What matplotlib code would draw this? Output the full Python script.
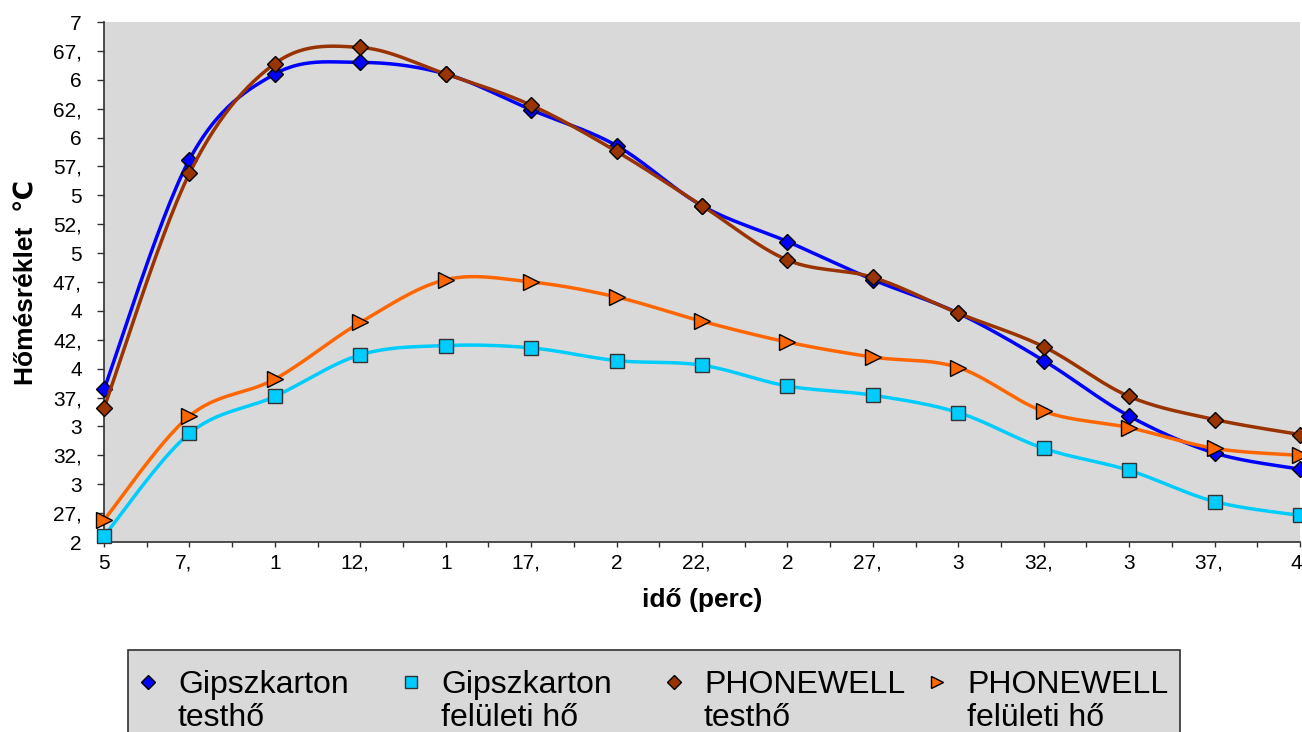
import numpy as np
import matplotlib
matplotlib.use("Agg")
import matplotlib.pyplot as plt
from matplotlib.lines import Line2D
from matplotlib.patches import Rectangle
from matplotlib.ticker import MultipleLocator
from matplotlib.transforms import ScaledTranslation

plt.rcParams['font.family'] = ['Liberation Sans', 'DejaVu Sans']

# --- data ---
times = [5, 7.5, 10, 12.5, 15, 17.5, 20, 22.5, 25, 27.5, 30, 32.5, 35, 37.5, 40]

gipsz_test = [38.2, 58.1, 65.5, 66.5, 65.5, 62.4, 59.3, 54.1, 51.0, 47.7, 44.8, 40.7, 35.9, 32.7, 31.3]
gipsz_felulet = [25.5, 34.4, 37.6, 41.2, 42.0, 41.8, 40.7, 40.3, 38.5, 37.7, 36.2, 33.1, 31.2, 28.5, 27.3]
phone_test = [36.6, 56.9, 66.4, 67.8, 65.5, 62.8, 58.8, 54.1, 49.4, 47.9, 44.8, 41.9, 37.6, 35.6, 34.3]
phone_felulet = [26.9, 35.9, 39.1, 44.0, 47.7, 47.5, 46.2, 44.1, 42.3, 41.0, 40.1, 36.3, 34.9, 33.1, 32.5]

series_names = ["Gipszkarton\ntesthő", "Gipszkarton\nfelületi hő",
                "PHONEWELL\ntesthő", "PHONEWELL\nfelületi hő"]

# tick labels are truncated in the original chart, kept as they appear
x_ticklabels = ['5', '7,', '1', '12,', '1', '17,', '2', '22,', '2', '27,',
                '3', '32,', '3', '37,', '4']
y_ticks = [25, 27.5, 30, 32.5, 35, 37.5, 40, 42.5, 45, 47.5, 50, 52.5,
           55, 57.5, 60, 62.5, 65, 67.5, 70]
y_ticklabels = ['2', '27,', '3', '32,', '3', '37,', '4', '42,', '4', '47,',
                '5', '52,', '5', '57,', '6', '62,', '6', '67,', '7']


def excel_smooth(xs, ys, steps=30):
    # bezier smoothing like the "smoothed line" option of spreadsheet charts
    pts = np.column_stack([xs, ys]).astype(float)
    n = len(pts)
    out = [pts[0]]
    t = np.linspace(0, 1, steps)[1:, None]
    for i in range(n - 1):
        p0 = pts[i - 1] if i > 0 else pts[i]
        p1 = pts[i]
        p2 = pts[i + 1]
        p3 = pts[i + 2] if i + 2 < n else pts[i + 1]
        c1 = p1 + (p2 - p0) / 6
        c2 = p2 - (p3 - p1) / 6
        seg = ((1 - t) ** 3) * p1 + 3 * ((1 - t) ** 2) * t * c1 \
            + 3 * (1 - t) * (t ** 2) * c2 + (t ** 3) * p2
        out.extend(seg)
    out = np.array(out)
    return out[:, 0], out[:, 1]


W, H = 1302, 732
fig = plt.figure(figsize=(W / 100, H / 100), dpi=100)
ax = fig.add_axes([104 / W, 1 - 542 / H, 1196 / W, 520 / H])
ax.set_facecolor('#d9d9d9')

styles = [
    dict(color='#0000ff', marker='D', ms=8, mec='black'),
    dict(color='#00ccff', marker='s', ms=10.5, mec='#333333'),
    dict(color='#993300', marker='D', ms=8, mec='black'),
    dict(color='#ff6600', marker='>', ms=11, mec='black'),
]
all_series = [gipsz_test, gipsz_felulet, phone_test, phone_felulet]

for z, (vals, st) in enumerate(zip(all_series, styles)):
    sx, sy = excel_smooth(times, vals)
    ax.plot(sx, sy, color=st['color'], lw=2.5, zorder=3 + 2 * z,
            solid_capstyle='round', clip_on=False)
    ax.plot(times, vals, ls='none', marker=st['marker'], ms=st['ms'],
            mfc=st['color'], mec=st['mec'], mew=1.0, zorder=4 + 2 * z,
            clip_on=False)

ax.set_xlim(5, 40)
ax.set_ylim(25, 70)
ax.set_xticks(times)
ax.set_xticklabels(x_ticklabels)
ax.xaxis.set_minor_locator(MultipleLocator(1.25))
ax.set_yticks(y_ticks)
ax.set_yticklabels(y_ticklabels)

for side in ['top', 'right']:
    ax.spines[side].set_visible(False)
for side in ['left', 'bottom']:
    ax.spines[side].set_color('#303030')
    ax.spines[side].set_linewidth(1.2)

ax.tick_params(axis='x', which='both', direction='out', length=3.8,
               width=1.0, color='#303030', labelsize=15, pad=4.5)
ax.tick_params(axis='y', which='major', direction='out', length=5,
               width=1.0, color='#303030', labelsize=15, pad=11)

# truncated labels like "12," were centred as "12,5" in the original
shift = ScaledTranslation(-5.5 / 100, 0, fig.dpi_scale_trans)
edge_shift = ScaledTranslation(-4 / 100, 0, fig.dpi_scale_trans)
xlabs = ax.get_xticklabels()
for lab in xlabs:
    if lab.get_text().endswith(','):
        lab.set_transform(lab.get_transform() + shift)
xlabs[-1].set_transform(xlabs[-1].get_transform() + edge_shift)

ax.set_xlabel('idő (perc)', fontsize=19, fontweight='bold')
ax.xaxis.set_label_coords(0.5, -0.0885)
ax.set_ylabel('Hőmésréklet  ℃', fontsize=19, fontweight='bold')
ax.yaxis.set_label_coords(-0.0547, 0.5)

# legend box with equal column widths
fig.add_artist(Rectangle((128 / W, -10 / H), (1180 - 128) / W, (732 - 650 + 10) / H,
                         transform=fig.transFigure, facecolor='#d9d9d9',
                         edgecolor='#303030', lw=1.2))
col_w = 263
for i, (name, st) in enumerate(zip(series_names, styles)):
    mx = 148 + col_w * i
    ms = st['ms'] * 0.85
    fig.add_artist(Line2D([mx / W], [1 - 682 / H], transform=fig.transFigure,
                          ls='none', marker=st['marker'], ms=ms,
                          mfc=st['color'], mec=st['mec'], mew=1.0))
    line1, line2 = name.split('\n')
    fig.text((mx + 30) / W, 1 - 693 / H, line1, fontsize=23, va='baseline', ha='left')
    fig.text((mx + 30) / W, 1 - 726 / H, line2, fontsize=23, va='baseline', ha='left')

fig.savefig('out.png', dpi=100)
